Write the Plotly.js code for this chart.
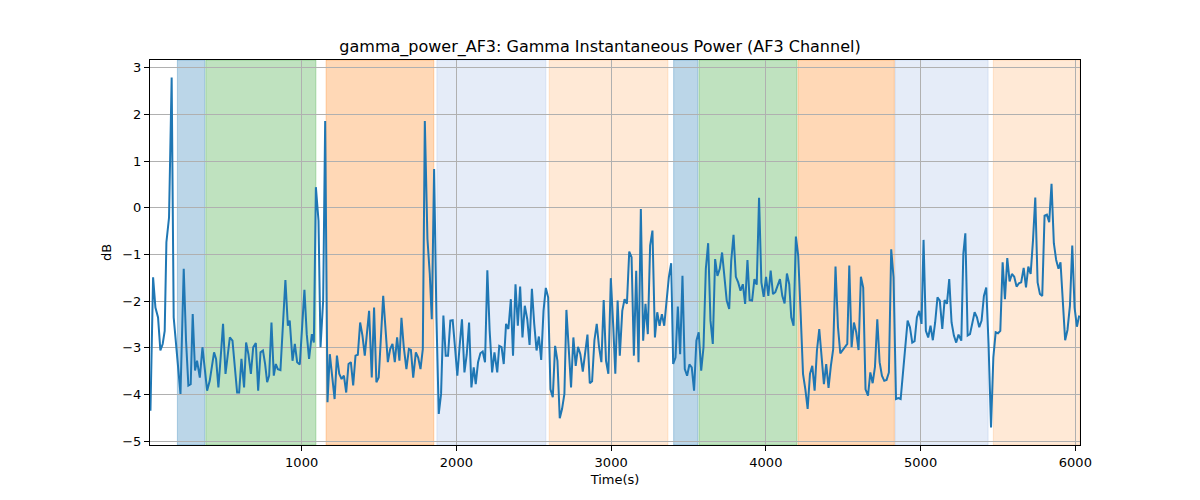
<!DOCTYPE html>
<html>
<head>
<meta charset="utf-8">
<script src="https://cdn.plot.ly/plotly-3.0.1.min.js"></script>
<style>html,body{margin:0;padding:0;background:#fff;}#chart{width:1200px;height:500px;}</style>
</head>
<body>
<div id="chart"></div>
<script>
// Time (s) samples
const timeS = [
23,40,55,72,87,102,115,126,143,160,173,195,217,238,253,268,283,296,311,324,342,359,374,389,406,419,434,447,462,480,492,508,523,536,553,568,583,596,611,628,641,656,672,687,704,719,734,750,
764,777,790,805,820,833,846,863,880,895,911,923,941,956,971,988,1003,1018,1033,1048,1066,1079,1092,1109,1122,1139,1152,1167,1182,1197,1213,1228,1243,1258,1273,1288,1303,1318,1333,1348,1363,1378,1393,1408,1423,1436,1453,1468,1483,1498,
1527,1540,1557,1572,1587,1602,1617,1632,1645,1660,1677,1693,1706,1721,1738,1753,1768,1783,1796,1813,1828,1841,1856,1871,1886,1901,1916,1931,1946,1961,1976,1991,2006,2021,2036,2052,2067,2082,2097,2112,2125,2140,2155,2170,2185,2200,2215,2231,2246,2264,
2277,2292,2306,2321,2336,2352,2366,2382,2397,2412,2427,2442,2458,2473,2488,2503,2518,2533,2548,2563,2578,2593,2608,2623,2638,2653,2668,2683,2698,2711,2726,2741,2756,2771,2786,2801,2817,2832,2847,2862,2877,2892,2907,2922,2937,2952,2967,2982,2998,
3014,3027,3042,3056,3072,3087,3102,3117,3132,3147,3162,3177,3192,3207,3222,3237,3252,3267,3283,3298,3313,3328,3343,3358,3373,3388,3401,3416,3431,3446,3461,3476,3491,3506,3521,3536,3551,3566,3582,3597,3612,3627,3642,3657,3672,3687,3702,3717,3732,3747,3763,
3776,3791,3806,3821,3836,3851,3866,3881,3895,3911,3926,3941,3956,3971,3986,4001,4016,4031,4046,4061,4076,4091,4106,4121,4136,4151,4164,4179,4194,4209,4224,4240,4255,4270,4285,4300,4315,4330,4345,4360,4375,4390,4405,4420,4435,4450,4466,4481,4496,4513,
4526,4539,4554,4569,4584,4599,4614,4629,4644,4660,4675,4690,4705,4720,4735,4750,4765,4780,4795,4810,4825,4841,4856,4871,4886,4901,4916,4931,4946,4961,4976,4991,5006,5019,5034,5049,5064,5079,5094,5109,5124,5140,5155,5170,5185,5200,5215,5230,5245,5263,
5276,5289,5304,5319,5334,5349,5364,5379,5394,5409,5424,5439,5455,5470,5485,5500,5515,5530,5545,5560,5575,5590,5605,5620,5635,5650,5666,5681,5696,5711,5726,5741,5756,5771,5786,5801,5816,5831,5846,5861,5876,5891,5904,5919,5934,5949,5965,5980,5995,6010,6025
];
// Gamma power (dB)
const powerDb = [
-4.35,-1.49,-2.14,-2.35,-3.06,-2.92,-2.64,-0.74,-0.21,2.79,-2.35,-3.14,-3.99,-1.31,-2.85,-3.81,-3.78,-2.28,-3.49,-3.28,-3.64,-2.99,-3.42,-3.92,-3.71,-3.42,-3.10,-3.24,-3.85,-3.06,-2.49,-3.56,-3.14,-2.78,-2.85,-3.46,-3.96,-3.96,-3.24,-3.85,-2.89,-3.14,-3.56,-2.99,-2.90,-3.92,-3.10,-3.06,
-3.35,-3.74,-3.60,-2.46,-3.60,-3.35,-3.46,-3.48,-2.56,-1.55,-2.53,-2.42,-3.28,-2.92,-3.31,-3.36,-2.56,-1.76,-2.71,-3.24,-2.71,-2.89,0.44,-0.28,-2.99,-1.99,1.86,-4.17,-3.14,-3.56,-4.10,-3.17,-3.56,-3.67,-3.60,-3.96,-3.35,-3.31,-3.81,-3.17,-3.15,-2.46,-2.74,-3.17,-2.67,-2.21,-3.64,-2.14,-3.74,-3.64,
-1.89,-2.56,-3.31,-3.03,-2.92,-3.31,-2.78,-3.28,-2.36,-2.99,-3.46,-3.03,-3.05,-3.64,-3.10,-3.21,-3.46,-3.03,1.86,-0.67,-1.42,-2.39,0.83,-2.35,-4.42,-3.99,-2.31,-3.17,-3.17,-2.42,-2.41,-2.99,-3.60,-2.96,-2.39,-3.53,-3.14,-2.46,-3.85,-3.42,-3.78,-3.31,-3.12,-3.08,-3.31,-1.34,-2.64,-3.53,-3.10,-3.53,
-2.96,-2.99,-3.35,-2.49,-2.60,-1.96,-3.17,-1.64,-2.53,-1.69,-2.78,-2.10,-2.39,-2.94,-1.74,-2.49,-3.06,-2.76,-3.26,-2.21,-1.72,-1.92,-3.89,-4.06,-2.96,-3.28,-4.51,-4.31,-3.99,-2.19,-3.14,-3.85,-2.78,-3.39,-2.98,-3.14,-3.51,-3.06,-2.72,-3.76,-3.72,-2.84,-2.49,-2.99,-3.31,-1.98,-3.28,-3.56,-1.51,
-2.56,-3.56,-1.99,-3.17,-2.21,-1.96,-2.06,-0.94,-1.06,-3.17,-1.35,-3.31,-0.03,-2.85,-2.06,-2.71,-0.81,-0.49,-2.78,-2.24,-2.53,-2.28,-2.53,-1.99,-1.49,-1.19,-3.35,-3.21,-2.12,-3.14,-1.46,-3.46,-3.60,-3.36,-3.42,-3.92,-2.85,-2.67,-3.49,-2.99,-1.31,-0.76,-2.42,-2.92,-1.10,-1.46,-1.31,-0.96,-1.42,-1.99,-2.17,
-1.14,-0.58,-1.48,-1.60,-1.78,-1.64,-2.06,-1.12,-1.98,-1.99,-1.53,-1.65,0.21,-1.60,-1.91,-1.48,-1.89,-1.35,-1.85,-1.81,-1.67,-1.53,-1.89,-2.05,-1.41,-1.64,-2.35,-2.53,-0.62,-1.03,-2.21,-3.56,-3.89,-4.31,-3.56,-3.39,-3.92,-3.06,-2.60,-3.17,-3.78,-3.35,-3.86,-3.39,-3.03,-1.26,-2.56,-3.12,-3.05,-2.99,
-2.92,-1.24,-2.99,-2.46,-2.67,-3.05,-1.48,-1.71,-3.89,-4.03,-3.53,-3.76,-3.41,-2.39,-3.31,-3.60,-3.71,-3.69,-3.53,-0.89,-1.49,-4.10,-4.08,-4.10,-3.56,-2.99,-2.42,-2.56,-2.89,-2.86,-2.35,-2.21,-2.49,-0.69,-2.64,-2.78,-2.53,-2.84,-2.46,-1.92,-1.99,-2.60,-1.98,-2.06,-1.53,-2.46,-2.74,-2.89,-2.72,-2.85,
-0.99,-0.55,-2.74,-2.71,-2.46,-2.24,-2.35,-2.56,-2.42,-1.89,-1.71,-2.92,-4.71,-3.21,-2.67,-2.69,-2.64,-1.17,-1.96,-1.08,-1.58,-1.42,-1.48,-1.69,-1.62,-1.60,-1.29,-1.71,-1.26,-1.42,-0.71,0.22,-1.60,-1.85,-1.89,-0.17,-0.15,-0.31,0.51,-0.76,-1.12,-1.31,-1.17,-1.99,-2.84,-2.62,-2.10,-0.81,-2.14,-2.55,-2.31
];
// Shaded condition intervals (s)
const spanStart = [197, 381, 1158, 1874, 2600, 3404, 3568, 4208, 4835, 5470];
const spanEnd   = [374, 1092, 1854, 2578, 3367, 3561, 4201, 4830, 5436, 6030];
const spanKind  = ['blue','green','orange','lightblue','lightorange','blue','green','orange','lightblue','lightorange'];

const kindColor = {
  blue: 'rgba(31,119,180,0.3)',
  green: 'rgba(44,160,44,0.3)',
  orange: 'rgba(255,127,14,0.3)',
  lightblue: 'rgba(40,100,200,0.12)',
  lightorange: 'rgba(255,127,14,0.17)'
};

const shapes = spanStart.map((s, i) => ({
  type: 'rect', xref: 'x', yref: 'paper', x0: s, x1: spanEnd[i], y0: 0, y1: 1,
  fillcolor: kindColor[spanKind[i]], line: {width: 1, color: kindColor[spanKind[i]]}, layer: 'below'
}));

const trace = {
  x: timeS, y: powerDb, type: 'scatter', mode: 'lines',
  line: {color: '#1f77b4', width: 2}, hoverinfo: 'skip'
};

const font = {family: 'DejaVu Sans, sans-serif', size: 13, color: '#000'};
const layout = {
  width: 1200, height: 500,
  margin: {l: 150, r: 120, t: 60, b: 55},
  paper_bgcolor: '#fff', plot_bgcolor: '#fff',
  font: font,
  showlegend: false,
  title: {text: 'gamma_power_AF3: Gamma Instantaneous Power (AF3 Channel)', font: {family: 'DejaVu Sans, sans-serif', size: 16, color: '#000'}, x: 0.5, xanchor: 'center', y: 0.908, yanchor: 'middle'},
  xaxis: {
    range: [20, 6030], tickvals: [1000,2000,3000,4000,5000,6000], ticktext: ['1000','2000','3000','4000','5000','6000'],
    showgrid: true, gridcolor: '#b0b0b0', gridwidth: 1, zeroline: false,
    showline: true, linecolor: '#000', linewidth: 1, mirror: true,
    ticks: 'outside', ticklen: 5, tickcolor: '#000', tickfont: font,
    title: {text: 'Time(s)', font: font, standoff: 6}
  },
  yaxis: {
    range: [-5.085, 3.165], tickvals: [-5,-4,-3,-2,-1,0,1,2,3], ticktext: ['\u22125','\u22124','\u22123','\u22122','\u22121','0','1','2','3'],
    showgrid: true, gridcolor: '#b0b0b0', gridwidth: 1, zeroline: false,
    showline: true, linecolor: '#000', linewidth: 1, mirror: true,
    ticks: 'outside', ticklen: 5, tickcolor: '#000', tickfont: font,
    title: {text: 'dB', font: font, standoff: 7}
  },
  shapes: shapes
};

Plotly.newPlot('chart', [trace], layout, {staticPlot: true, displayModeBar: false});
</script>
</body>
</html>
